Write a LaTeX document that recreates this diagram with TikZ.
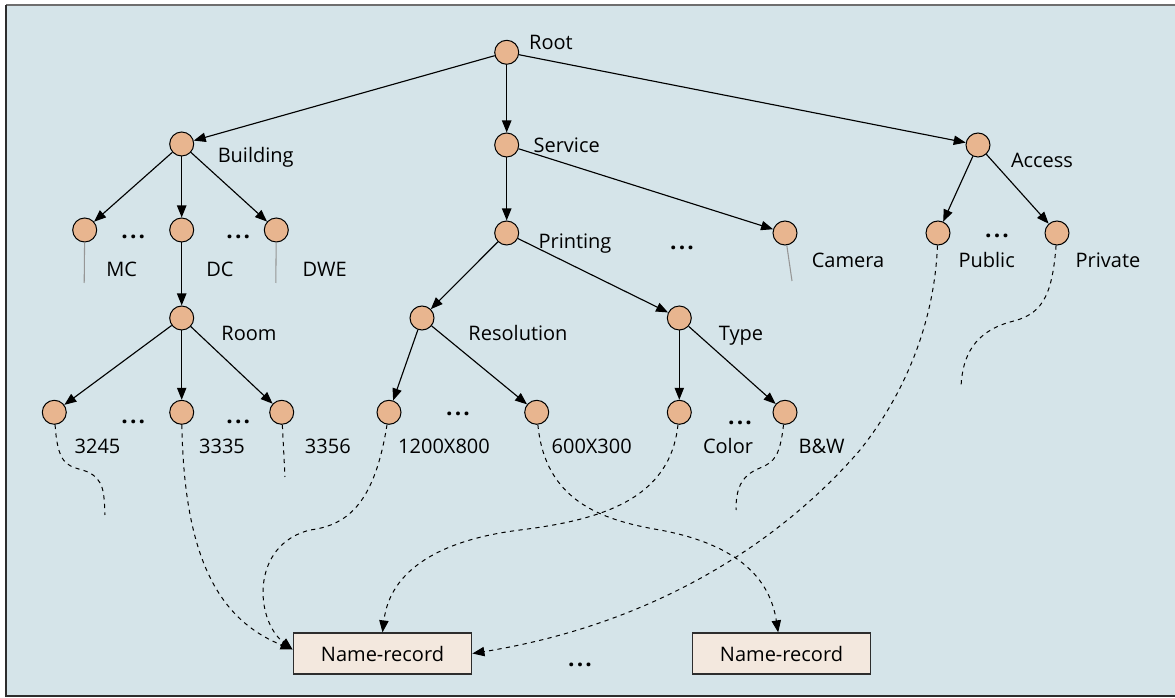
\documentclass[tikz,border=0pt]{standalone}
\usepackage{fontspec}
\setmainfont{Open Sans}
\usetikzlibrary{arrows.meta}
\definecolor{panelbg}{RGB}{213,228,233}
\definecolor{vtxfill}{RGB}{232,181,143}
\definecolor{recfill}{RGB}{243,232,222}
\definecolor{topline}{RGB}{110,110,110}
\definecolor{sideline}{RGB}{45,45,45}
\definecolor{stubgrey}{RGB}{150,150,150}
\tikzset{
  vtx/.style={circle, draw=black, fill=vtxfill, line width=0.75pt, minimum size=18pt, inner sep=0pt},
  lbl/.style={anchor=base, inner sep=0pt, font=\fontsize{15}{18}\selectfont},
  dotsnode/.style={inner sep=0pt, font=\bfseries\fontsize{17}{18}\selectfont},
  recbox/.style={draw=sideline, fill=recfill, line width=0.9pt, minimum width=134pt, minimum height=30.75pt, inner sep=0pt, font=\fontsize{15}{18}\selectfont},
  edge/.style={line width=0.85pt, -{Triangle[length=9pt,width=7pt]}},
  dashlink/.style={line width=0.75pt, dash pattern=on 3.2pt off 3.2pt, -{Triangle[length=9pt,width=7pt]}},
  dashstub/.style={line width=0.75pt, dash pattern=on 3.2pt off 3.2pt},
  greystub/.style={draw=stubgrey, line width=0.8pt}
}
\newcommand{\tdots}{.\kern1.6pt.\kern1.6pt.}
\begin{document}
\begin{tikzpicture}[x=0.75pt,y=-0.75pt]
\useasboundingbox (0,0) rectangle (1175,698);
% panel
\fill[white] (0,0) rectangle (1175,698);
\fill[panelbg] (6,6) rectangle (1175,696);
\draw[topline, line width=1.5pt] (6,5.5) -- (1175,5.5);
\draw[sideline, line width=1.3pt] (6,5.5) -- (6,696) -- (1175,696);

% vertices
\node[vtx] (root) at (506.7,52.3) {};
\node[vtx] (bld) at (181.7,144) {};
\node[vtx] (svc) at (506.7,145) {};
\node[vtx] (acc) at (978,145) {};
\node[vtx] (mc) at (84.7,230) {};
\node[vtx] (dc) at (181.7,230) {};
\node[vtx] (dwe) at (276.3,230) {};
\node[vtx] (room) at (181.7,318) {};
\node[vtx] (r3245) at (54.3,412.3) {};
\node[vtx] (r3335) at (181.7,412.3) {};
\node[vtx] (r3356) at (281.7,412.3) {};
\node[vtx] (prt) at (506.7,233) {};
\node[vtx] (cam) at (785,233) {};
\node[vtx] (res) at (422,318) {};
\node[vtx] (typ) at (679.3,318) {};
\node[vtx] (hi) at (389,412.3) {};
\node[vtx] (lo) at (536.7,412.3) {};
\node[vtx] (col) at (679.3,412.3) {};
\node[vtx] (bw) at (785,412.3) {};
\node[vtx] (pub) at (938,233) {};
\node[vtx] (pri) at (1057,233) {};

% labels
\node[lbl] (lroot) at (551,50) {Root};
\node[lbl] (lbld) at (255.7,163) {Building};
\node[lbl] (lsvc) at (566.7,153) {Service};
\node[lbl] (lacc) at (1042,168) {Access};
\node[lbl] (lmc) at (121.7,277) {MC};
\node[lbl] (ldc) at (220,277) {DC};
\node[lbl] (ldwe) at (324.7,277) {DWE};
\node[lbl] (lroom) at (249,341) {Room};
\node[lbl] (l3245) at (97.5,454) {3245};
\node[lbl] (l3335) at (222,454) {3335};
\node[lbl] (l3356) at (327.8,454) {3356};
\node[lbl] (lprt) at (575,249) {Printing};
\node[lbl] (lcam) at (848,268) {Camera};
\node[lbl] (lres) at (518,341) {Resolution};
\node[lbl] (ltyp) at (741,341) {Type};
\node[lbl] (lhi) at (444,454) {1200X800};
\node[lbl] (llo) at (591.7,454) {600X300};
\node[lbl] (lcol) at (728,454) {Color};
\node[lbl] (lbw) at (821.7,454) {B\&W};
\node[lbl] (lpub) at (986.7,268) {Public};
\node[lbl] (lpri) at (1108,268) {Private};

% elision marks
\node[dotsnode] (d1) at (133.3,236.7) {\tdots};
\node[dotsnode] (d2) at (238.3,236.7) {\tdots};
\node[dotsnode] (d3) at (133.3,421.7) {\tdots};
\node[dotsnode] (d4) at (238.3,421.7) {\tdots};
\node[dotsnode] (d5) at (682,247.5) {\tdots};
\node[dotsnode] (d6) at (997,236) {\tdots};
\node[dotsnode] (d7) at (458,414) {\tdots};
\node[dotsnode] (d8) at (740,423) {\tdots};
\node[dotsnode] (d9) at (580,665) {\tdots};

% name records
\node[recbox] (rec1) at (382.5,653.5) {Name-record};
\node[recbox] (rec2) at (781.5,653.5) {Name-record};

% tree edges
\draw[edge] (root) -- (bld);
\draw[edge] (root) -- (svc);
\draw[edge] (root) -- (acc);
\draw[edge] (bld) -- (mc);
\draw[edge] (bld) -- (dc);
\draw[edge] (bld) -- (dwe);
\draw[edge] (dc) -- (room);
\draw[edge] (room) -- (r3245);
\draw[edge] (room) -- (r3335);
\draw[edge] (room) -- (r3356);
\draw[edge] (svc) -- (prt);
\draw[edge] (svc) -- (cam);
\draw[edge] (prt) -- (res);
\draw[edge] (prt) -- (typ);
\draw[edge] (res) -- (hi);
\draw[edge] (res) -- (lo);
\draw[edge] (typ) -- (col);
\draw[edge] (typ) -- (bw);
\draw[edge] (acc) -- (pub);
\draw[edge] (acc) -- (pri);

% grey leaf stubs
\coordinate (mcend) at (84.2,283);
\coordinate (dweend) at (275.8,283);
\coordinate (camend) at (792,281);
\draw[greystub] (mc) -- (mcend);
\draw[greystub] (dwe) -- (dweend);
\draw[greystub] (cam) -- (camend);

% dashed stubs
\coordinate (s3245) at (105,515);
\coordinate (s3356) at (285,477);
\coordinate (sbw) at (736,510);
\coordinate (spri) at (961,388);
\draw[dashstub] (r3245) .. controls (58,470) and (70,465) .. (88,472)
                 .. controls (104,480) and (104,492) .. (s3245);
\draw[dashstub] (r3356) -- (s3356);
\draw[dashstub] (bw) .. controls (780,455) and (775,462) .. (760,468)
                 .. controls (740,476) and (736,490) .. (sbw);
\draw[dashstub] (pri) .. controls (1052,300) and (1040,315) .. (1010,322)
                 .. controls (975,332) and (962,355) .. (spri);

% dashed links to name records
\draw[dashlink] (r3335) .. controls (184,560) and (220,620) .. ([yshift=3pt]rec1.west);
\draw[dashlink] (hi) .. controls (375,500) and (350,525) .. (310,530)
                 .. controls (250,545) and (255,620) .. ([yshift=3pt]rec1.west);
\draw[dashlink] (col) .. controls (670,500) and (600,520) .. (520,530)
                 .. controls (440,540) and (390,570) .. (rec1.north);
\draw[dashlink] (lo) .. controls (545,500) and (600,520) .. (660,530)
                 .. controls (740,545) and (770,580) .. ([xshift=-2.5pt]rec2.north);
\draw[dashlink] (pub) .. controls (934,330) and (900,400) .. (860,450)
                 .. controls (800,520) and (680,620) .. (rec1.east);
\end{tikzpicture}
\end{document}
